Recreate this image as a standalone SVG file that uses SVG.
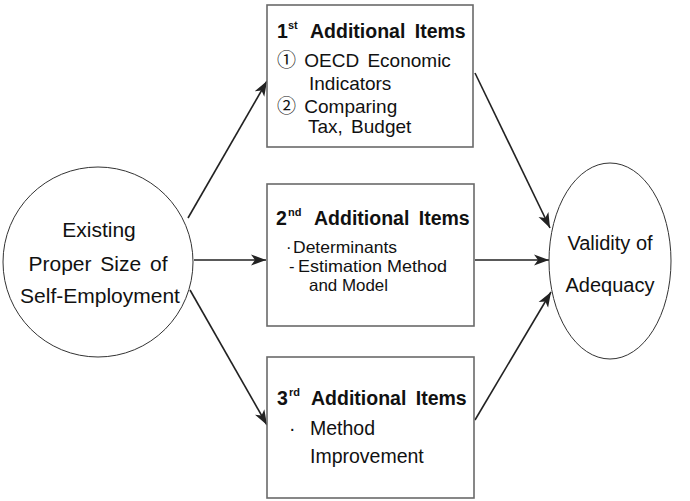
<svg xmlns="http://www.w3.org/2000/svg" width="690" height="501" viewBox="0 0 690 501">
<defs>
<marker id="arr" markerUnits="userSpaceOnUse" markerWidth="16" markerHeight="12" refX="15" refY="6" orient="auto">
<path d="M0,0.5 L15,6 L0,11.5 L4,6 z" fill="#222"/>
</marker>
</defs>
<style>
.box{fill:#fff;stroke:#6a6a6a;stroke-width:1.6}
.ell{fill:#fff;stroke:#333;stroke-width:1}
.con{stroke:#222;stroke-width:1.6;fill:none;marker-end:url(#arr)}
text{font-family:"Liberation Sans","Noto Sans CJK KR",Arial,sans-serif;fill:#111}
.h{font-size:19.5px;font-weight:bold;word-spacing:4px}
.sup{font-size:11px;font-weight:bold}
.b1{font-size:19px;word-spacing:3px}
.b2{font-size:16.5px}
.b3{font-size:19.5px}
.big{font-size:21px;text-anchor:middle;word-spacing:3px}
.mid{font-size:20px;text-anchor:middle}
</style>
<rect width="690" height="501" fill="#fff"/>
<g id="connectors">
<line class="con" x1="188" y1="218" x2="267" y2="81"/>
<line class="con" x1="194" y1="260" x2="266" y2="260"/>
<line class="con" x1="190" y1="290" x2="267" y2="425"/>
<line class="con" x1="475" y1="73" x2="550" y2="228"/>
<line class="con" x1="475" y1="260" x2="549" y2="260"/>
<line class="con" x1="475" y1="420" x2="551" y2="292"/>
</g>
<g id="existing">
<circle class="ell" cx="98" cy="262" r="95"/>
<text class="big" x="99" y="237">Existing</text>
<text class="big" x="98" y="271">Proper Size of</text>
<text class="big" x="100" y="303">Self-Employment</text>
</g>
<g id="item1">
<rect class="box" x="267" y="5" width="206" height="142"/>
<text class="h" x="277" y="38">1</text>
<text class="sup" x="288" y="29">st</text>
<text class="h" x="310" y="38">Additional Items</text>
<text class="b1" x="277" y="67">① OECD Economic</text>
<text class="b1" x="309" y="90">Indicators</text>
<text class="b1" x="277" y="113">② Comparing</text>
<text class="b1" x="308" y="133">Tax, Budget</text>
</g>
<g id="item2">
<rect class="box" x="267" y="184" width="207" height="142"/>
<text class="h" x="276" y="225">2</text>
<text class="sup" x="288" y="216">nd</text>
<text class="h" x="314" y="225">Additional Items</text>
<text class="b2" x="286" y="253">·</text>
<text class="b2" x="293" y="253" textLength="104" lengthAdjust="spacingAndGlyphs">Determinants</text>
<text class="b2" x="289" y="272">-</text>
<text class="b2" x="298" y="272" textLength="149" lengthAdjust="spacingAndGlyphs">Estimation Method</text>
<text class="b2" x="309" y="291" textLength="79" lengthAdjust="spacingAndGlyphs">and Model</text>
</g>
<g id="item3">
<rect class="box" x="267" y="357" width="207" height="141"/>
<text class="h" x="277" y="405">3</text>
<text class="sup" x="289" y="396">rd</text>
<text class="h" x="311" y="405">Additional Items</text>
<text class="b3" x="289" y="435">·</text>
<text class="b3" x="310" y="435">Method</text>
<text class="b3" x="310" y="463">Improvement</text>
</g>
<g id="validity">
<ellipse class="ell" cx="610" cy="261" rx="61" ry="98"/>
<text class="mid" x="610" y="250">Validity of</text>
<text class="mid" x="610" y="292">Adequacy</text>
</g>
</svg>
